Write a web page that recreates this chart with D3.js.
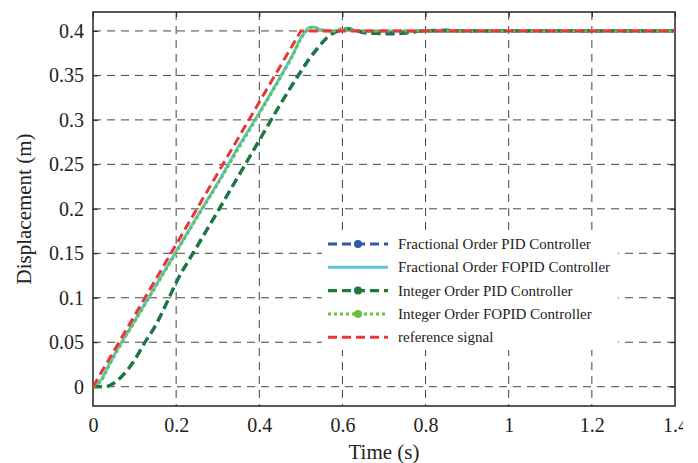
<!DOCTYPE html>
<html>
<head>
<meta charset="utf-8">
<script src="https://cdn.jsdelivr.net/npm/d3@7"></script>
<style>
  body { margin: 0; background: #fff; }
  text { font-family: "Liberation Serif", "Times New Roman", serif; fill: #222; }
</style>
</head>
<body>
<div id="chart"></div>
<script>
// values
var xTicks = [0, 0.2, 0.4, 0.6, 0.8, 1, 1.2, 1.4];
var yTicks = [0, 0.05, 0.1, 0.15, 0.2, 0.25, 0.3, 0.35, 0.4];

var refT = [0, 0.5, 1.4];
var refY = [0, 0.4, 0.4];

var fopidT = [0, 0.02, 0.04, 0.06, 0.1, 0.15, 0.2, 0.25, 0.3, 0.35, 0.4, 0.45, 0.48, 0.5, 0.51, 0.52, 0.53, 0.55, 0.58, 0.6, 0.65, 0.7, 0.8, 1.0, 1.4];
var fracFopidY = [0, 0.008, 0.026, 0.043, 0.074, 0.113, 0.152, 0.191, 0.229, 0.27, 0.308, 0.348, 0.373, 0.392, 0.399, 0.404, 0.4045, 0.401, 0.4, 0.401, 0.4, 0.4, 0.4, 0.4, 0.4];
var intFopidY = [0, 0.007, 0.025, 0.042, 0.073, 0.112, 0.151, 0.19, 0.228, 0.268, 0.307, 0.347, 0.372, 0.391, 0.398, 0.403, 0.404, 0.401, 0.4, 0.4025, 0.4, 0.4, 0.4, 0.4, 0.4];

var pidT = [0, 0.03, 0.05, 0.07, 0.085, 0.1, 0.125, 0.15, 0.175, 0.2, 0.25, 0.3, 0.35, 0.4, 0.45, 0.5, 0.52, 0.54, 0.56, 0.58, 0.6, 0.61, 0.63, 0.65, 0.68, 0.7, 0.72, 0.75, 0.78, 0.8, 0.85, 0.9, 1.0, 1.4];
var intPidY = [0, 0, 0.004, 0.012, 0.02, 0.03, 0.05, 0.068, 0.092, 0.117, 0.157, 0.197, 0.237, 0.277, 0.317, 0.354, 0.368, 0.38, 0.391, 0.398, 0.401, 0.4025, 0.401, 0.3985, 0.3975, 0.3975, 0.3978, 0.398, 0.3995, 0.4, 0.4, 0.4, 0.4, 0.4];
var fracPidY = [0, 0, 0.004, 0.012, 0.02, 0.03, 0.05, 0.069, 0.092, 0.117, 0.158, 0.197, 0.237, 0.277, 0.317, 0.355, 0.369, 0.381, 0.391, 0.398, 0.401, 0.402, 0.4005, 0.398, 0.397, 0.3968, 0.3965, 0.3975, 0.3995, 0.4005, 0.401, 0.4, 0.4, 0.4];

var seriesNames = ["Fractional Order PID Controller", "Fractional Order FOPID Controller",
  "Integer Order PID Controller", "Integer Order FOPID Controller", "reference signal"];

var w = 698, h = 463;
var pLeft = 93, pRight = 675, pTop = 12, pBottom = 406;

var svg = d3.select("#chart")
  .append("svg")
  .attr("width", w)
  .attr("height", h);

var x = d3.scaleLinear().domain([0, 1.4]).range([pLeft, pRight]);
var y = d3.scaleLinear().domain([-0.0217, 0.4213]).range([pBottom, pTop]);

// clip for the lines and the cut-off last label
svg.append("clipPath").attr("id", "plot")
  .append("rect").attr("x", pLeft).attr("y", pTop).attr("width", pRight - pLeft).attr("height", pBottom - pTop);
svg.append("clipPath").attr("id", "page")
  .append("rect").attr("x", 0).attr("y", 0).attr("width", 683).attr("height", h);

// grid
svg.append("g")
  .selectAll("line")
  .data(xTicks.slice(1, -1))
  .enter()
  .append("line")
  .attr("x1", function(d) { return x(d); })
  .attr("x2", function(d) { return x(d); })
  .attr("y1", pTop)
  .attr("y2", pBottom)
  .attr("stroke", "#444")
  .attr("stroke-width", 1)
  .attr("stroke-dasharray", "8,6");
svg.append("g")
  .selectAll("line")
  .data(yTicks)
  .enter()
  .append("line")
  .attr("x1", pLeft)
  .attr("x2", pRight)
  .attr("y1", function(d) { return y(d); })
  .attr("y2", function(d) { return y(d); })
  .attr("stroke", "#444")
  .attr("stroke-width", 1)
  .attr("stroke-dasharray", "8,6");

// axes
svg.append("g")
  .attr("transform", "translate(0," + pBottom + ")")
  .attr("clip-path", "url(#page)")
  .call(d3.axisBottom(x).tickValues(xTicks).tickSize(-5).tickPadding(12)
    .tickFormat(function(d) { return String(d); }));
svg.append("g")
  .attr("transform", "translate(" + pLeft + ",0)")
  .call(d3.axisLeft(y).tickValues(yTicks).tickSize(-5).tickPadding(9)
    .tickFormat(function(d) { return String(d); }));
svg.append("g")
  .attr("transform", "translate(0," + pTop + ")")
  .call(d3.axisTop(x).tickValues(xTicks).tickSize(-5).tickFormat(""));
svg.append("g")
  .attr("transform", "translate(" + pRight + ",0)")
  .call(d3.axisRight(y).tickValues(yTicks).tickSize(-5).tickFormat(""));
svg.selectAll(".domain").remove();
svg.selectAll(".tick line").attr("stroke", "#222");
svg.selectAll(".tick text")
  .attr("font-family", "Liberation Serif")
  .attr("font-size", "20px")
  .attr("fill", "#222");

// frame
svg.append("rect")
  .attr("x", pLeft)
  .attr("y", pTop)
  .attr("width", pRight - pLeft)
  .attr("height", pBottom - pTop)
  .attr("fill", "none")
  .attr("stroke", "#222")
  .attr("stroke-width", 1.5);

// axis labels
svg.append("text")
  .attr("text-anchor", "middle")
  .attr("x", x(0.7))
  .attr("y", 459)
  .attr("font-size", "21px")
  .text("Time (s)");
svg.append("text")
  .attr("text-anchor", "middle")
  .attr("transform", "translate(31," + ((pTop + pBottom) / 2) + ") rotate(-90)")
  .attr("font-size", "21px")
  .text("Displacement (m)");

// lines
var series = [
  { name: seriesNames[0], t: pidT, v: fracPidY, color: "#2b5aa8", dash: "9,5", width: 3, marker: true, curve: d3.curveMonotoneX },
  { name: seriesNames[1], t: fopidT, v: fracFopidY, color: "#5ec6d6", dash: null, width: 3, marker: false, curve: d3.curveMonotoneX },
  { name: seriesNames[2], t: pidT, v: intPidY, color: "#1b7a3c", dash: "9,5", width: 3.2, marker: true, curve: d3.curveMonotoneX },
  { name: seriesNames[3], t: fopidT, v: intFopidY, color: "#6abf45", dash: "3,3", width: 3, marker: true, curve: d3.curveMonotoneX },
  { name: seriesNames[4], t: refT, v: refY, color: "#ee3434", dash: "9,5", width: 3, marker: false, curve: d3.curveLinear }
];

var plot = svg.append("g").attr("clip-path", "url(#plot)");
series.forEach(function(s) {
  var line = d3.line()
    .x(function(d) { return x(d[0]); })
    .y(function(d) { return y(d[1]); })
    .curve(s.curve);
  plot.append("path")
    .datum(d3.zip(s.t, s.v))
    .attr("d", line)
    .attr("fill", "none")
    .attr("stroke", s.color)
    .attr("stroke-width", s.width)
    .attr("stroke-dasharray", s.dash);
});

// legend
var legend = svg.append("g").attr("transform", "translate(322,232)");
legend.append("rect")
  .attr("x", 0)
  .attr("y", 0)
  .attr("width", 296)
  .attr("height", 118)
  .attr("fill", "#fff");
series.forEach(function(s, i) {
  var ly = 12 + i * 23.3;
  legend.append("line")
    .attr("x1", 6)
    .attr("x2", 66)
    .attr("y1", ly)
    .attr("y2", ly)
    .attr("stroke", s.color)
    .attr("stroke-width", s.width)
    .attr("stroke-dasharray", s.dash);
  if (s.marker) {
    legend.append("circle")
      .attr("cx", 36)
      .attr("cy", ly)
      .attr("r", 4)
      .attr("fill", s.color);
  }
  legend.append("text")
    .attr("x", 76)
    .attr("y", ly + 5)
    .attr("font-size", "15px")
    .text(s.name);
});
</script>
</body>
</html>
